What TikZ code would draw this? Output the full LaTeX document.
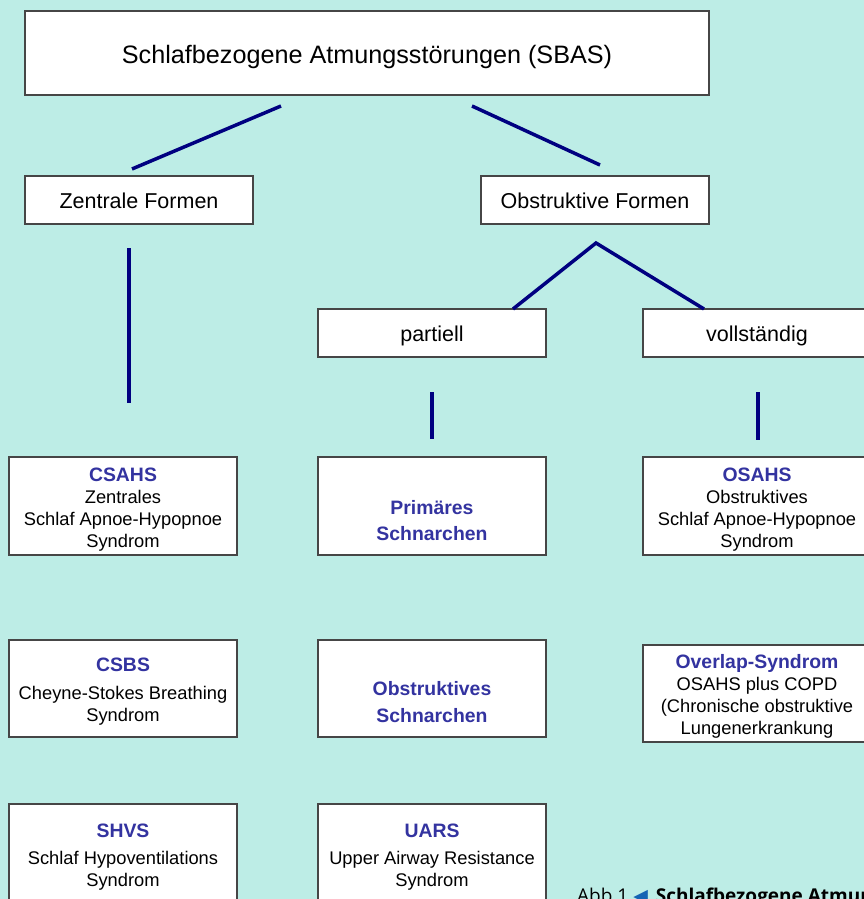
\documentclass[tikz,border=0pt]{standalone}
\usepackage{fontspec}
\setmainfont{Liberation Sans}
\newfontfamily\capfont{Open Sans}
\newfontfamily\symfont{DejaVu Sans}
\definecolor{bg}{RGB}{189,237,230}
\definecolor{navy}{RGB}{0,0,128}
\definecolor{tblue}{RGB}{51,51,160}
\definecolor{bord}{RGB}{70,70,70}
\definecolor{abbblue}{RGB}{20,100,180}
\newcommand\bhead[1]{{\fontsize{19.4}{22}\selectfont\bfseries\color{tblue}#1}}
\newcommand\topstrut[1]{\rule{0pt}{#1}}
\begin{document}
\begin{tikzpicture}[x=1pt,y=-1pt,
  box/.style={draw=bord, line width=1.3pt, fill=white, inner sep=0pt, align=center,
    minimum width=228pt, font=\fontsize{18.3}{22}\selectfont},
  bigbox/.style={box, minimum height=98pt},
  midbox/.style={box, minimum height=48pt, text height=16pt, text depth=0pt, font=\fontsize{21.5}{24}\selectfont},
  conn/.style={draw=navy, line width=3.5pt}]
\useasboundingbox (0,0) rectangle (864,899);
\clip (0,0) rectangle (864,899);
\fill[bg] (0,0) rectangle (864,899);

\node[box, minimum width=684pt, minimum height=84pt, text height=21.5pt, text depth=0pt, font=\fontsize{25.2}{28}\selectfont] (sbas) at (367,53) {Schlafbezogene Atmungsstörungen (SBAS)};

\node[midbox] (zf) at (139,200) {Zentrale Formen};
\node[midbox] (of) at (595,200) {Obstruktive Formen};
\node[midbox] (part) at (432,333) {partiell};
\node[midbox] (voll) at (757,333) {vollständig};

\node[bigbox] (csahs) at (123,506) {\topstrut{20pt}\bhead{CSAHS}\\Zentrales\\Schlaf Apnoe-Hypopnoe\\Syndrom};
\node[bigbox] (prim) at (432,506) {\topstrut{17pt}\\[4pt]\bhead{Primäres}\\[4pt]\bhead{Schnarchen}};
\node[bigbox] (osahs) at (757,506) {\topstrut{20pt}\bhead{OSAHS}\\Obstruktives\\Schlaf Apnoe-Hypopnoe\\Syndrom};

\node[box, minimum height=97pt] (csbs) at (123,688.5) {\topstrut{20pt}\bhead{CSBS}\\[6pt]Cheyne-Stokes Breathing\\Syndrom};
\node[box, minimum height=97pt] (obs) at (432,688.5) {\topstrut{15pt}\\[5pt]\bhead{Obstruktives}\\[5pt]\bhead{Schnarchen}};
\node[box, minimum height=97pt] (overlap) at (757,693.5) {\topstrut{20pt}\bhead{Overlap-Syndrom}\\OSAHS plus COPD\\(Chronische obstruktive\\Lungenerkrankung};

\node[box, minimum height=97pt] (shvs) at (123,852.5) {\topstrut{22pt}\bhead{SHVS}\\[5pt]Schlaf Hypoventilations\\Syndrom};
\node[box, minimum height=97pt] (uars) at (432,852.5) {\topstrut{22pt}\bhead{UARS}\\[5pt]Upper Airway Resistance\\Syndrom};

\node[anchor=base west, inner sep=0pt, font=\capfont\fontsize{19}{22}\selectfont] (cap) at (577,902)
  {Abb 1 {\symfont\color{abbblue}◀}\hspace{3pt} \textbf{Schlafbezogene Atmun}};

% connectors (free-floating ends)
\coordinate (a1) at (281,106); \coordinate (a2) at (132,169);
\coordinate (b1) at (472,106); \coordinate (b2) at (600,165);
\coordinate (c1) at (129,248); \coordinate (c2) at (129,403);
\coordinate (apex) at (596,243);
\coordinate (pl) at (513,309); \coordinate (vr) at (704,309);
\coordinate (d1) at (432,392); \coordinate (d2) at (432,439);
\coordinate (e1) at (758,392); \coordinate (e2) at (758,440);

\draw[conn] (a1) -- (a2);
\draw[conn] (b1) -- (b2);
\draw[conn] (c1) -- (c2);
\draw[conn] (pl) -- (apex) -- (vr);
\draw[conn] (d1) -- (d2);
\draw[conn] (e1) -- (e2);
\end{tikzpicture}
\end{document}
